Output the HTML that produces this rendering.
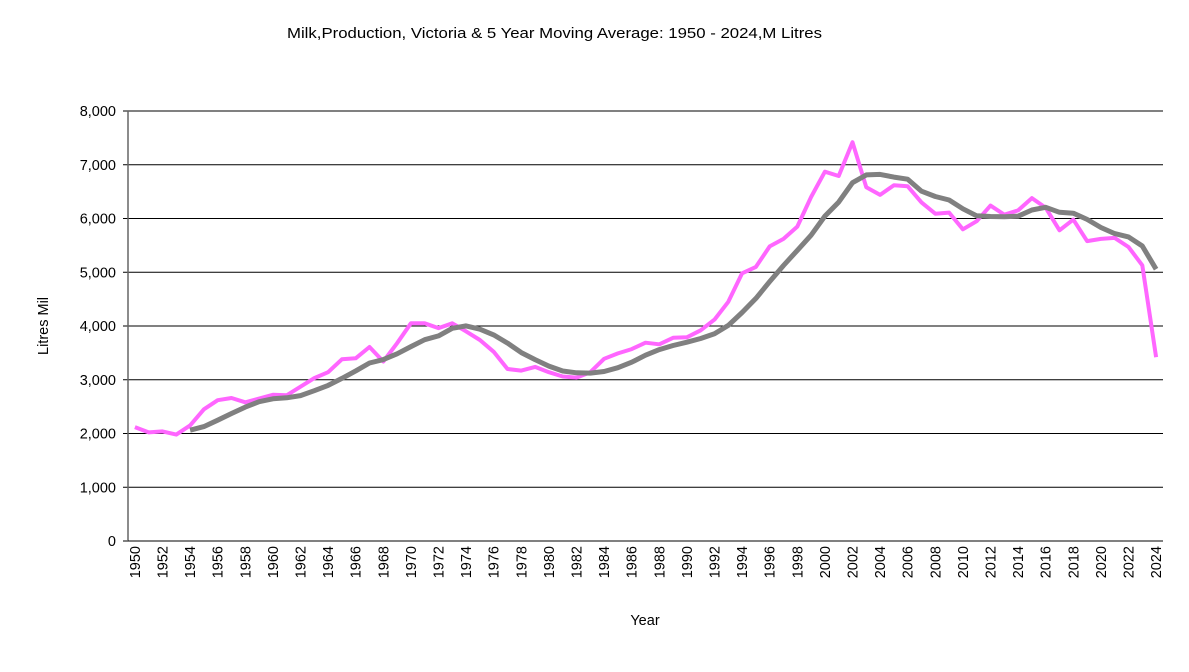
<!DOCTYPE html>
<html><head><meta charset="utf-8"><style>
body{margin:0;background:#fff}
svg{display:block;font-family:"Liberation Sans",Arial,sans-serif}
</style></head><body>
<svg id="s" width="1189" height="672" xmlns="http://www.w3.org/2000/svg"></svg>
<script>
const raw=[2120,2020,2040,1980,2150,2450,2620,2660,2580,2650,2720,2710,2870,3030,3140,3380,3400,3610,3340,3680,4050,4050,3960,4050,3900,3740,3520,3200,3170,3240,3140,3060,3040,3140,3390,3490,3570,3690,3660,3780,3790,3920,4120,4450,4980,5100,5480,5620,5850,6400,6870,6790,7420,6580,6440,6620,6600,6300,6090,6110,5800,5950,6240,6070,6150,6380,6200,5780,5980,5580,5620,5640,5470,5130,3420];
const L=128,R=1163,T=111,B=541,n=raw.length,w=(R-L)/n;
const X=i=>L+w*(i+0.5), Y=v=>B-(B-T)*v/8000;
let h='';
h+='<text x="287" y="38" font-size="15" textLength="535" lengthAdjust="spacingAndGlyphs">Milk,Production, Victoria &amp; 5 Year Moving Average: 1950 - 2024,M Litres</text>';
for(let k=0;k<=8;k++){const y=Y(k*1000);
 if(k>0)h+=`<line x1="${L}" x2="${R}" y1="${y}" y2="${y}" stroke="#000" stroke-width="1"/>`;
 h+=`<line x1="${L-5}" x2="${L}" y1="${y}" y2="${y}" stroke="#000"/>`;
 h+=`<text x="116" y="${y+5}" font-size="14.5" text-anchor="end">${k?k+',000':'0'}</text>`;}
h+=`<line x1="${L}" x2="${L}" y1="${T}" y2="${B}" stroke="#666" stroke-width="1.5"/>`;
h+=`<line x1="${L}" x2="${R}" y1="${B}" y2="${B}" stroke="#000" stroke-width="1"/>`;
for(let i=0;i<n;i+=2){const x=X(i);h+=`<text transform="translate(${x+5},546) rotate(-90)" font-size="14.5" text-anchor="end">${1950+i}</text>`;}
h+='<text transform="translate(48,326) rotate(-90)" font-size="14.5" text-anchor="middle">Litres Mil</text>';
h+='<text x="645" y="625" font-size="14.5" text-anchor="middle">Year</text>';
let ma=[];for(let i=4;i<n;i++){let s=0;for(let j=i-4;j<=i;j++)s+=raw[j];ma.push(`${X(i).toFixed(1)},${Y(s/5).toFixed(1)}`);}
h+=`<polyline points="${raw.map((v,i)=>X(i).toFixed(1)+','+Y(v).toFixed(1)).join(' ')}" fill="none" stroke="#ff66ff" stroke-width="4" stroke-linejoin="round"/>`;
h+=`<polyline points="${ma.join(' ')}" fill="none" stroke="#808080" stroke-width="5" stroke-linejoin="round"/>`;
document.getElementById('s').innerHTML=h;
</script>
</body></html>
